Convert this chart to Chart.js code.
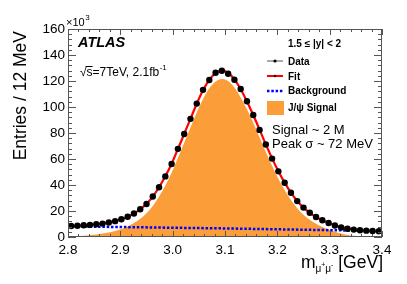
<!DOCTYPE html>
<html>
<head>
<meta charset="utf-8">
<script src="https://cdn.jsdelivr.net/npm/chart.js@4/dist/chart.umd.min.js"></script>
<style>
html,body{margin:0;padding:0;background:#fff;}
#wrap{width:407px;height:284px;position:relative;}
</style>
</head>
<body>
<div id="wrap"><canvas id="c" width="407" height="284"></canvas></div>
<script>
// ---- data (entries in thousands) ----
const massBins = [2.806,2.818,2.830,2.842,2.854,2.866,2.878,2.890,2.902,2.914,
  2.926,2.938,2.950,2.962,2.974,2.986,2.998,3.010,3.022,3.034,
  3.046,3.058,3.070,3.082,3.094,3.106,3.118,3.130,3.142,3.154,
  3.166,3.178,3.190,3.202,3.214,3.226,3.238,3.250,3.262,3.274,
  3.286,3.298,3.310,3.322,3.334,3.346,3.358,3.370,3.382,3.394];
const dataEntries = [8.5,8.7,9.0,9.3,9.8,10.3,11.2,12.2,13.7,15.6,
  18.1,21.3,25.4,31.2,38.3,46.6,56.2,67.8,79.2,90.9,
  102.6,113.2,120.8,126.4,127.9,125.6,121.0,113.8,104.4,93.9,
  82.4,71.1,60.3,50.5,41.7,34.0,27.6,22.6,18.7,15.4,
  12.9,10.8,8.8,7.3,6.4,5.7,5.2,4.9,4.6,4.4];
const fitMass = [2.800,2.806,2.818,2.830,2.842,2.854,2.866,2.878,2.890,2.902,2.914,
  2.926,2.938,2.950,2.962,2.974,2.986,2.998,3.010,3.022,3.034,
  3.046,3.058,3.070,3.082,3.094,3.106,3.118,3.130,3.142,3.154,
  3.166,3.178,3.190,3.202,3.214,3.226,3.238,3.250,3.262,3.274,
  3.286,3.298,3.310,3.322,3.334,3.346,3.358,3.370,3.382,3.394,3.400];
const fitVals = [8.4,8.5,8.7,9.0,9.3,9.8,10.4,11.2,12.3,13.7,15.6,
  18.1,21.3,25.5,31.1,38.3,46.7,56.4,67.7,79.3,90.9,
  102.5,112.8,120.9,126.1,128.0,126.3,121.2,113.6,104.3,93.8,
  82.6,71.3,60.5,50.6,41.8,34.1,27.7,22.6,18.6,15.4,
  12.9,10.8,9.0,7.6,6.5,5.8,5.2,4.9,4.6,4.4,4.35];
const signalVals = [0.2,0.3,0.6,1.0,1.4,1.9,2.6,3.5,4.7,6.1,8.1,
  10.7,14.0,18.2,23.9,31.2,39.7,49.4,60.8,72.5,84.2,
  95.8,106.2,114.4,119.7,121.6,120.0,115.0,107.4,98.2,87.8,
  76.7,65.4,54.7,44.9,36.2,28.5,22.2,17.2,13.3,10.1,
  7.7,5.7,4.0,2.6,1.6,1.0,0.5,0.2,0.0,0.0,0.0];
const bgMass = [2.8, 3.1, 3.4];
const bgVals = [8.2, 6.6, 4.6];
const xTicks = [2.8, 2.9, 3.0, 3.1, 3.2, 3.3, 3.4];
const yTicks = [0, 20, 40, 60, 80, 100, 120, 140, 160];

const FONT = "'Liberation Sans', Arial, Helvetica, sans-serif";
const ORANGE = '#fb9e3a';

const pts = (xs, ys) => xs.map((x, i) => ({x: x, y: ys[i]}));

const decor = {
  id: 'decor',
  afterDatasetsDraw(chart) {
    const ctx = chart.ctx, a = chart.chartArea;
    const xs = chart.scales.x, ys = chart.scales.y;
    ctx.save();
    ctx.strokeStyle = '#555';
    ctx.lineWidth = 1;
    ctx.beginPath();
    for (let i = 0; i <= 30; i++) {
      const v = xTicks[0] + i * 0.02;
      const px = Math.round(xs.getPixelForValue(v)) + 0.5;
      const len = (i % 5 === 0) ? 6 : 3;
      ctx.moveTo(px, a.bottom); ctx.lineTo(px, a.bottom - len);
      ctx.moveTo(px, a.top); ctx.lineTo(px, a.top + len);
    }
    for (let j = 0; j <= 40; j++) {
      const v = j * 4;
      const py = Math.round(ys.getPixelForValue(v)) + 0.5;
      const len = (j % 5 === 0) ? 8 : 4;
      ctx.moveTo(a.left, py); ctx.lineTo(a.left + len, py);
      ctx.moveTo(a.right, py); ctx.lineTo(a.right - len, py);
    }
    ctx.stroke();
    ctx.strokeRect(Math.round(a.left) + 0.5, Math.round(a.top) + 0.5,
      Math.round(a.right - a.left) - 1, Math.round(a.bottom - a.top) - 1);
    ctx.restore();
  },
  afterDraw(chart) {
    const ctx = chart.ctx;
    ctx.save();
    ctx.fillStyle = '#000';
    ctx.textBaseline = 'alphabetic';
    ctx.textAlign = 'left';

    // y title
    ctx.save();
    ctx.translate(21, 31);
    ctx.rotate(-Math.PI / 2);
    ctx.textAlign = 'right';
    ctx.textBaseline = 'middle';
    ctx.font = '17.5px ' + FONT;
    ctx.fillText('Entries / 12 MeV', 0, 0);
    ctx.restore();

    // x10^3
    ctx.font = '11px ' + FONT;
    ctx.fillText('\u00d710', 66, 26);
    let w = ctx.measureText('\u00d710').width;
    ctx.font = '8px ' + FONT;
    ctx.fillText('3', 66 + w + 0.5, 20);

    // x title
    ctx.font = '17.5px ' + FONT;
    const mW = ctx.measureText('m').width;
    const gW = ctx.measureText(' [GeV]').width;
    ctx.font = '10px ' + FONT;
    const muW = ctx.measureText('\u03bc').width;
    ctx.font = '7px ' + FONT;
    const plW = ctx.measureText('+').width;
    const miW = ctx.measureText('-').width;
    const total = mW + muW + plW + muW + miW + gW;
    let x = 383 - total;
    ctx.font = '17.5px ' + FONT;
    ctx.fillText('m', x, 268); x += mW;
    ctx.font = '10px ' + FONT;
    ctx.fillText('\u03bc', x, 272); x += muW;
    ctx.font = '7px ' + FONT;
    ctx.fillText('+', x, 267); x += plW;
    ctx.font = '10px ' + FONT;
    ctx.fillText('\u03bc', x, 272); x += muW;
    ctx.font = '7px ' + FONT;
    ctx.fillText('-', x, 267); x += miW;
    ctx.font = '17.5px ' + FONT;
    ctx.fillText(' [GeV]', x, 268);

    // ATLAS
    ctx.font = 'italic bold 14.5px ' + FONT;
    ctx.fillText('ATLAS', 78, 47);

    // sqrt(s)
    ctx.font = '12px ' + FONT;
    const rootW = ctx.measureText('\u221a').width;
    const sW = ctx.measureText('s').width;
    const line1 = '\u221as=7TeV, 2.1fb';
    ctx.fillText(line1, 80, 75.5);
    ctx.lineWidth = 1;
    ctx.strokeStyle = '#000';
    ctx.beginPath();
    ctx.moveTo(80 + rootW - 1, 66.5);
    ctx.lineTo(80 + rootW + sW, 66.5);
    ctx.stroke();
    w = ctx.measureText(line1).width;
    ctx.font = '8px ' + FONT;
    ctx.fillText('-1', 80 + w + 0.5, 69.5);

    // legend
    ctx.font = 'bold 10px ' + FONT;
    ctx.fillText('1.5 \u2264 |y| < 2', 288, 47);
    ctx.fillText('Data', 288, 64.5);
    ctx.fillText('Fit', 288, 79.5);
    ctx.fillText('Background', 288, 94);
    ctx.fillText('J/\u03c8 Signal', 288, 111);
    // data symbol
    ctx.strokeStyle = '#555'; ctx.lineWidth = 1;
    ctx.beginPath(); ctx.moveTo(267, 61); ctx.lineTo(283, 61); ctx.stroke();
    ctx.fillStyle = '#000';
    ctx.beginPath(); ctx.arc(275, 61, 1.6, 0, 2 * Math.PI); ctx.fill();
    // fit symbol
    ctx.strokeStyle = '#ff0000'; ctx.lineWidth = 2;
    ctx.beginPath(); ctx.moveTo(267, 76); ctx.lineTo(283, 76); ctx.stroke();
    ctx.fillStyle = '#400';
    ctx.beginPath(); ctx.arc(275, 76, 1.3, 0, 2 * Math.PI); ctx.fill();
    // background symbol
    ctx.strokeStyle = '#0000ff'; ctx.lineWidth = 2.5;
    ctx.setLineDash([2.5, 1.8]);
    ctx.beginPath(); ctx.moveTo(267, 91); ctx.lineTo(284, 91); ctx.stroke();
    ctx.setLineDash([]);
    // signal box
    ctx.fillStyle = ORANGE;
    ctx.fillRect(267, 101, 17, 14);

    // annotations
    ctx.fillStyle = '#000';
    ctx.font = '13px ' + FONT;
    ctx.fillText('Signal ~ 2 M', 272, 133.5);
    ctx.fillText('Peak \u03c3 ~ 72 MeV', 272, 148);
    ctx.restore();
  }
};

new Chart(document.getElementById('c'), {
  type: 'scatter',
  data: {
    datasets: [
      {
        label: 'Data',
        data: pts(massBins, dataEntries),
        showLine: false,
        pointRadius: 3.2,
        pointBackgroundColor: '#000',
        pointBorderColor: '#000',
        pointBorderWidth: 0
      },
      {
        label: 'Fit',
        data: pts(fitMass, fitVals),
        showLine: true,
        borderColor: '#ff0000',
        borderWidth: 2.2,
        pointRadius: 0,
        cubicInterpolationMode: 'monotone',
        fill: false
      },
      {
        label: 'Background',
        data: pts(bgMass, bgVals),
        showLine: true,
        borderColor: '#0000ff',
        borderWidth: 2.5,
        borderDash: [2.5, 1.8],
        pointRadius: 0,
        fill: false
      },
      {
        label: 'J/psi Signal',
        data: pts(fitMass, signalVals),
        showLine: true,
        borderWidth: 0,
        borderColor: ORANGE,
        backgroundColor: ORANGE,
        pointRadius: 0,
        cubicInterpolationMode: 'monotone',
        fill: 'origin'
      }
    ]
  },
  options: {
    responsive: false,
    devicePixelRatio: 1,
    animation: false,
    events: [],
    layout: { padding: { top: 29, right: 25, left: 0, bottom: 0 } },
    plugins: { legend: { display: false }, tooltip: { enabled: false } },
    scales: {
      x: {
        type: 'linear',
        min: 2.8, max: 3.4,
        afterFit(s) { s.height = 47; },
        afterBuildTicks(s) { s.ticks = xTicks.map(v => ({value: v})); },
        grid: { display: false, drawTicks: false },
        border: { display: false },
        ticks: {
          autoSkip: false, maxRotation: 0, padding: 5,
          color: '#000',
          font: { family: FONT, size: 13.5 },
          callback: v => Number(v).toFixed(1)
        }
      },
      y: {
        type: 'linear',
        min: 0, max: 160,
        afterFit(s) { s.width = 68; },
        afterBuildTicks(s) { s.ticks = yTicks.map(v => ({value: v})); },
        grid: { display: false, drawTicks: false },
        border: { display: false },
        ticks: {
          autoSkip: false, padding: 3,
          color: '#000',
          font: { family: FONT, size: 13.5 },
          callback: v => String(v)
        }
      }
    }
  },
  plugins: [decor]
});
</script>
</body>
</html>
